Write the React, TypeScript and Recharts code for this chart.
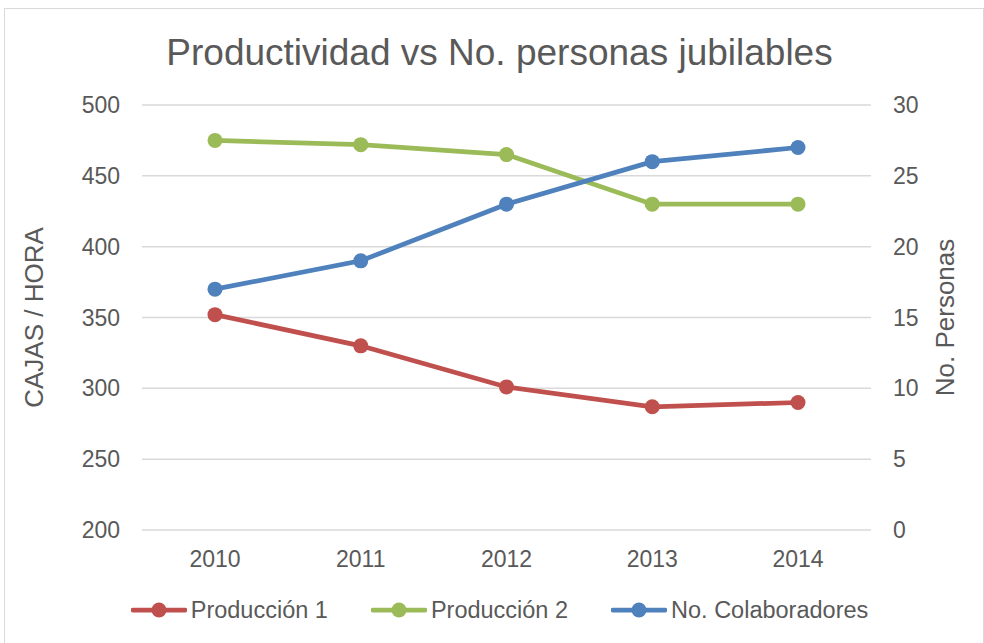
import React from "react";
import { LineChart, Line, XAxis, YAxis, CartesianGrid } from "recharts";

const years = ["2010", "2011", "2012", "2013", "2014"];
const produccion1 = [352, 330, 301, 287, 290];
const produccion2 = [475, 472, 465, 430, 430];
const colaboradores = [17, 19, 23, 26, 27];
const leftTicks = [200, 250, 300, 350, 400, 450, 500];
const rightTicks = [0, 5, 10, 15, 20, 25, 30];

const series = [
    { key: "p1", name: "Producción 1", color: "#C0504D", axis: "left" },
    { key: "p2", name: "Producción 2", color: "#9BBB59", axis: "left" },
    { key: "col", name: "No. Colaboradores", color: "#4F81BD", axis: "right" },
];

const data = years.map((year, i) => ({
    year,
    p1: produccion1[i],
    p2: produccion2[i],
    col: colaboradores[i],
}));

const FONT = "'Liberation Sans', Arial, sans-serif";
const TEXT = "#595959";

function AxisTitle({ viewBox, text, dx }: any) {
    const x = viewBox.x + dx;
    const y = viewBox.y + viewBox.height / 2;
    return (
        <text
            x={x}
            y={y}
            transform={`rotate(-90, ${x}, ${y})`}
            textAnchor="middle"
            dominantBaseline="central"
            fill={TEXT}
            fontSize={26}
            fontFamily={FONT}
        >
            {text}
        </text>
    );
}

export default function App() {
    const tick = { fill: TEXT, fontSize: 23, fontFamily: FONT };
    return (
        <div style={{ position: "absolute", left: 0, top: 0, width: 984, height: 643, background: "#fff", fontFamily: FONT }}>
            {/* chart frame */}
            <div style={{ position: "absolute", left: 4, top: 8, width: 978, height: 650, border: "1px solid #d9d9d9" }} />

            {/* title */}
            <div style={{ position: "absolute", left: 0, width: 999, top: 34, textAlign: "center", fontSize: 37, lineHeight: 1, color: TEXT }}>
                Productividad vs No. personas jubilables
            </div>

            <div style={{ position: "absolute", left: 0, top: 0 }}>
                <LineChart width={984} height={643} data={data} margin={{ top: 105, right: 0, bottom: 73, left: 0 }}>
                    <CartesianGrid vertical={false} stroke="#d9d9d9" strokeWidth={1.5} yAxisId="left" />
                    <XAxis
                        dataKey="year"
                        axisLine={false}
                        tickLine={false}
                        tick={tick}
                        tickMargin={15}
                        height={40}
                        padding={{ left: 73, right: 73 }}
                    />
                    <YAxis
                        yAxisId="left"
                        domain={[200, 500]}
                        ticks={leftTicks}
                        axisLine={false}
                        tickLine={false}
                        tick={tick}
                        tickMargin={16}
                        width={142}
                        label={<AxisTitle text="CAJAS / HORA" dx={34} />}
                    />
                    <YAxis
                        yAxisId="right"
                        orientation="right"
                        domain={[0, 30]}
                        ticks={rightTicks}
                        axisLine={false}
                        tickLine={false}
                        tick={{ ...tick, textAnchor: "start" }}
                        tickMargin={16}
                        width={113}
                        label={<AxisTitle text="No. Personas" dx={74} />}
                    />
                    {series.map((s) => (
                        <Line
                            key={s.key}
                            yAxisId={s.axis}
                            dataKey={s.key}
                            name={s.name}
                            stroke={s.color}
                            strokeWidth={4.75}
                            dot={{ r: 7.5, fill: s.color, stroke: "none" }}
                            isAnimationActive={false}
                        />
                    ))}
                </LineChart>
            </div>

            {/* legend */}
            <div style={{ position: "absolute", left: 0, width: 999, top: 596, display: "flex", justifyContent: "center", gap: 43, fontSize: 23.5, color: TEXT, lineHeight: "28px" }}>
                {series.map((s) => (
                    <div key={s.key} style={{ display: "flex", alignItems: "center", gap: 4 }}>
                        <svg width={56} height={20}>
                            <line x1={2} y1={10} x2={54} y2={10} stroke={s.color} strokeWidth={4.75} strokeLinecap="round" />
                            <circle cx={28} cy={10} r={7.5} fill={s.color} />
                        </svg>
                        <span>{s.name}</span>
                    </div>
                ))}
            </div>
        </div>
    );
}
